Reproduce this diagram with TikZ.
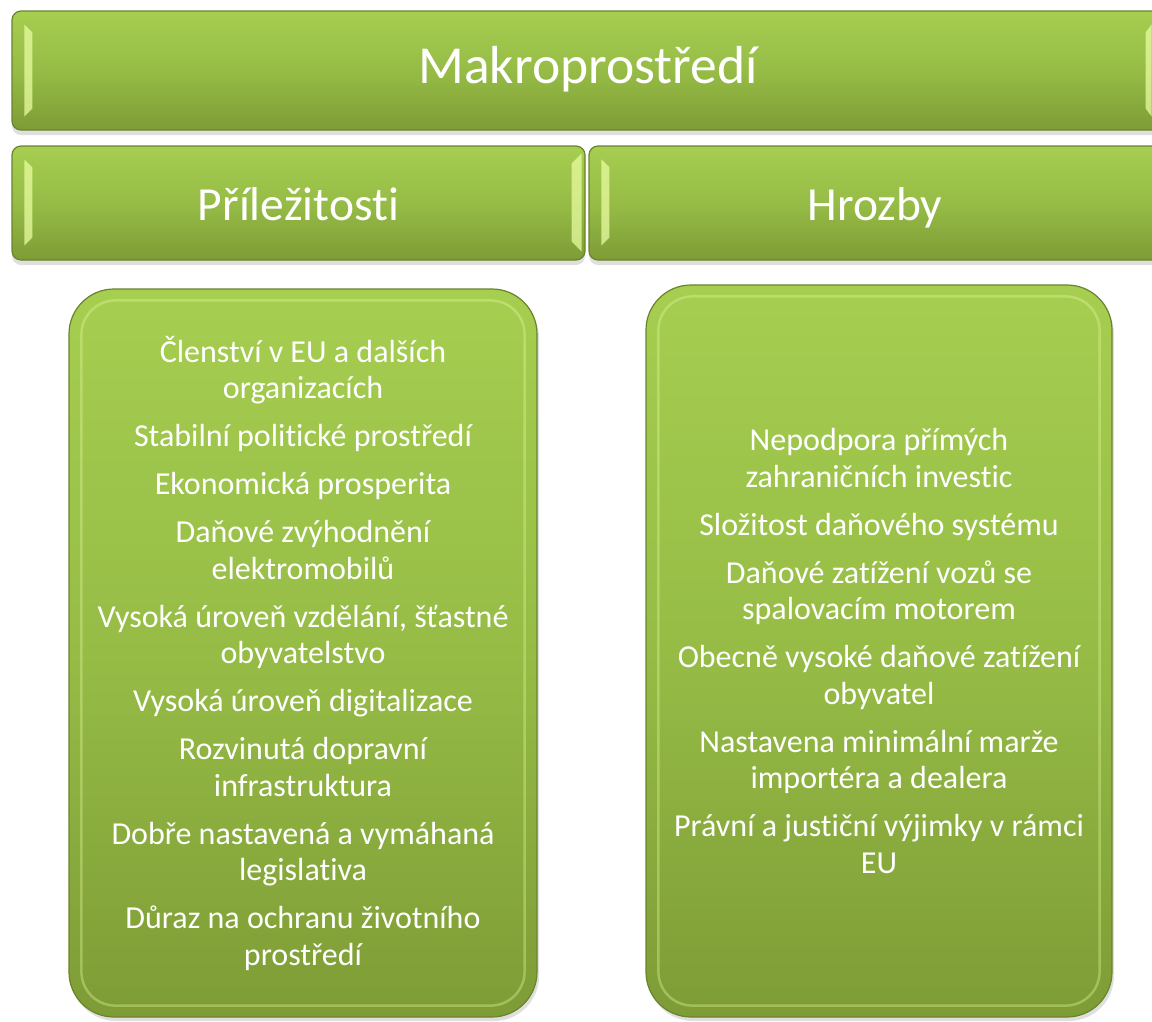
\documentclass[tikz,border=0pt]{standalone}
\usepackage{fontspec}
\setmainfont{Carlito}[Ligatures=NoCommon]
\usetikzlibrary{shadows}
\definecolor{grasstop}{RGB}{166,206,80}
\definecolor{grassmid}{RGB}{150,188,70}
\definecolor{grassbot}{RGB}{126,156,54}
\definecolor{grassedge}{RGB}{106,132,44}
\definecolor{grassglow}{RGB}{232,252,160}
\tikzset{
  bar/.style={draw=grassedge, line width=1.2pt, rounded corners=9pt, top color=grasstop, bottom color=grassbot, middle color=grassmid, drop shadow={shadow xshift=0pt, shadow yshift=-5pt, opacity=0.25}, text=white, inner sep=0pt, text height=40pt, text depth=6pt, font=\fontsize{47.5}{56}\selectfont},
  panel/.style={draw=grassedge, line width=1.2pt, rounded corners=45pt, top color=grasstop, bottom color=grassbot, middle color=grassmid, drop shadow={shadow xshift=2pt, shadow yshift=-4pt, opacity=0.25}, text=white, inner sep=0pt, align=center, font=\fontsize{32}{36.5}\selectfont},
  glow/.style={fill=grassglow, opacity=0.75},
  rim/.style={draw=grassglow, line width=2.5pt, opacity=0.35, rounded corners=34pt}
}
\begin{document}
\begin{tikzpicture}[x=1pt, y=-1pt]
\useasboundingbox (0,0) rectangle (1152,1021);

\node[bar, minimum width=1152pt, minimum height=119pt, text height=31pt, text depth=6pt, font=\fontsize{53.5}{60}\selectfont] (macro) at (588,70.5) {Makroprostředí};
\node[bar, minimum width=573pt, minimum height=114pt] (opps) at (298.5,203) {Příležitosti};
\node[bar, minimum width=572pt, minimum height=114pt] (threats) at (875,203) {Hrozby};

\fill[glow] ([shift={(13,14)}]macro.north west) -- ++(8,8) -- ++(0,76) -- ++(-8,8) -- cycle;
\fill[glow] ([shift={(-13,14)}]macro.north east) -- ++(-6,8) -- ++(0,76) -- ++(6,8) -- cycle;
\fill[glow] ([shift={(13,14)}]opps.north west) -- ++(8,8) -- ++(0,70) -- ++(-8,8) -- cycle;
\fill[glow] ([shift={(-4,8)}]opps.north east) -- ++(-10,10) -- ++(0,78) -- ++(10,10) -- cycle;
\fill[glow] ([shift={(13,14)}]threats.north west) -- ++(8,8) -- ++(0,70) -- ++(-8,8) -- cycle;

\node[panel, minimum width=468pt, minimum height=728pt] (oppsbox) at (303,653) {Členství v EU a dalších\\organizacích\\[11.5pt]
  Stabilní politické prostředí\\[11.5pt]
  Ekonomická prosperita\\[11.5pt]
  Daňové zvýhodnění\\elektromobilů\\[11.5pt]
  Vysoká úroveň vzdělání, šťastné\\obyvatelstvo\\[11.5pt]
  Vysoká úroveň digitalizace\\[11.5pt]
  Rozvinutá dopravní\\infrastruktura\\[11.5pt]
  Dobře nastavená a vymáhaná\\legislativa\\[11.5pt]
  Důraz na ochranu životního\\prostředí};
\node[panel, minimum width=466pt, minimum height=732pt] (threatsbox) at (879,651) {Nepodpora přímých\\zahraničních investic\\[11.5pt]
  Složitost daňového systému\\[11.5pt]
  Daňové zatížení vozů se\\spalovacím motorem\\[11.5pt]
  Obecně vysoké daňové zatížení\\obyvatel\\[11.5pt]
  Nastavena minimální marže\\importéra a dealera\\[11.5pt]
  Právní a justiční výjimky v rámci\\EU};

\draw[rim] ([shift={(13,12)}]oppsbox.north west) rectangle ([shift={(-13,-12)}]oppsbox.south east);
\draw[rim] ([shift={(13,12)}]threatsbox.north west) rectangle ([shift={(-13,-12)}]threatsbox.south east);
\end{tikzpicture}
\end{document}
